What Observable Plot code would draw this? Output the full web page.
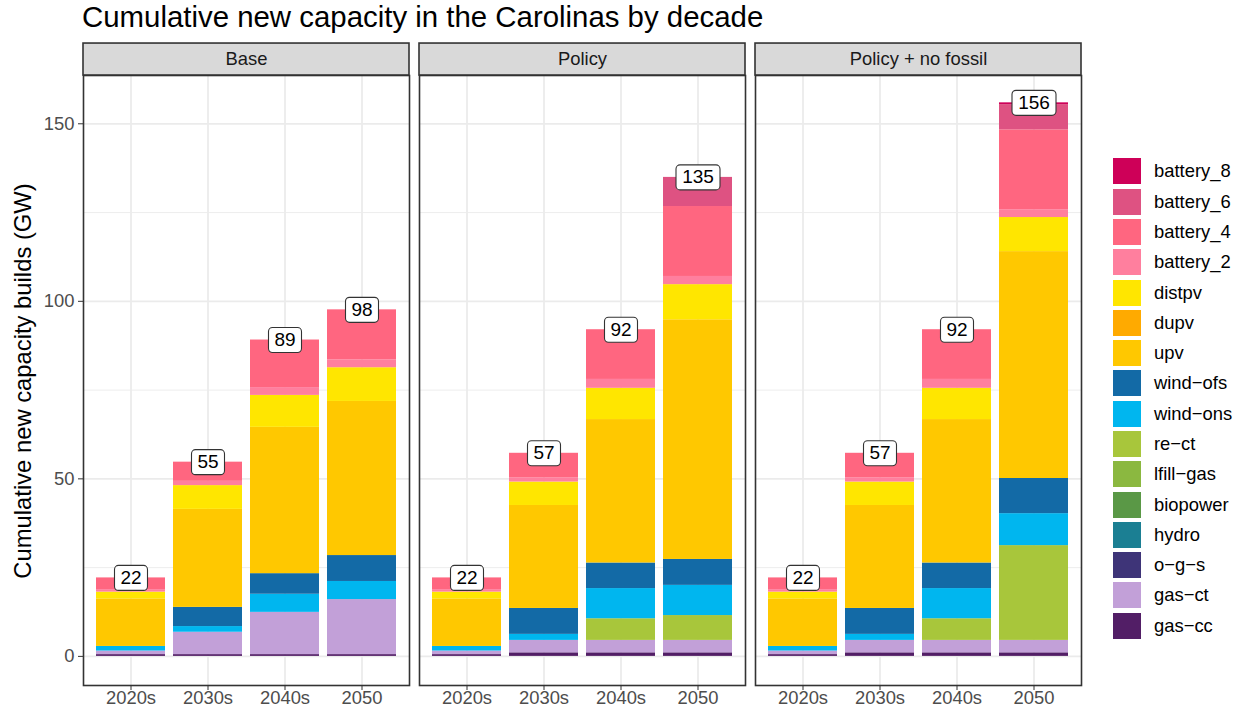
<!DOCTYPE html>
<html><head><meta charset="utf-8">
<script src="https://cdn.jsdelivr.net/npm/d3@7"></script>
<script src="https://cdn.jsdelivr.net/npm/@observablehq/plot@0.6"></script>
<style>
body{margin:0;background:#fff;font-family:"Liberation Sans",Arial,sans-serif;}
#wrap{position:relative;width:1244px;height:713px;overflow:hidden;background:#fff;}
#title{position:absolute;left:82px;top:2.1px;font-size:29.4px;line-height:1;color:#000;white-space:nowrap;}
#ylab{position:absolute;left:22.5px;top:381px;transform:translate(-50%,-50%) rotate(-90deg);font-size:23.8px;white-space:nowrap;line-height:1;color:#000;}
#legend{position:absolute;left:1113px;top:156.2px;}
.item{height:30.3px;display:flex;align-items:center;}
.sw{width:27.7px;height:26px;margin-right:13.3px;flex:none;}
.lab{font-size:18.4px;color:#000;white-space:nowrap;}
#chart{position:absolute;left:0;top:0;}
</style></head>
<body>
<div id="wrap">
  <div id="chart"></div>
  <div id="title">Cumulative new capacity in the Carolinas by decade</div>
  <div id="ylab">Cumulative new capacity builds (GW)</div>
  <div id="legend"></div>
</div>
<script>
const scenarios = ["Base", "Policy", "Policy + no fossil"];
const decades = ["2020s", "2030s", "2040s", "2050"];
const techs = ["battery_8","battery_6","battery_4","battery_2","distpv","dupv","upv","wind-ofs","wind-ons","re-ct","lfill-gas","biopower","hydro","o-g-s","gas-ct","gas-cc"];
const techColors = ["#CE0058","#DE5282","#FF6680","#FF7F9E","#FFE600","#FFAA00","#FFC800","#136AA6","#00B6EF","#A8C63B","#8BB840","#5A9846","#1B7F93","#3E3478","#C2A0D8","#521E66"];
const yTicks = [0, 50, 100, 150];
const yMinor = [25, 75, 125];

// GW added per technology; columns follow `decades`
const baseValues = [
  ["gas-cc",    0.5, 0.5,  0.5,  0.5],
  ["gas-ct",    1.0, 6.3, 11.9, 15.5],
  ["wind-ons",  1.3, 1.6,  5.1,  5.1],
  ["wind-ofs",  0.0, 5.4,  5.8,  7.3],
  ["upv",      13.4,27.6, 41.2, 43.4],
  ["distpv",    1.9, 6.7,  9.0,  9.5],
  ["battery_2", 0.7, 1.2,  2.2,  2.2],
  ["battery_4", 3.3, 5.4, 13.4, 14.1]
];
const policyValues = [
  ["gas-cc",    0.5, 1.0,  1.0,  1.0],
  ["gas-ct",    1.0, 3.5,  3.5,  3.5],
  ["re-ct",     0.0, 0.0,  6.1,  7.0],
  ["wind-ons",  1.3, 1.7,  8.5,  8.5],
  ["wind-ofs",  0.0, 7.3,  7.2,  7.3],
  ["upv",      13.4,29.0, 40.4, 67.5],
  ["distpv",    1.9, 6.6,  8.8,  9.9],
  ["battery_2", 0.7, 1.2,  2.5,  2.3],
  ["battery_4", 3.3, 6.9, 14.0, 19.7],
  ["battery_6", 0.0, 0.0,  0.0,  8.2]
];
const noFossilValues = [
  ["gas-cc",    0.5, 1.0,  1.0,  1.0],
  ["gas-ct",    1.0, 3.5,  3.5,  3.5],
  ["re-ct",     0.0, 0.0,  6.1, 26.7],
  ["wind-ons",  1.3, 1.7,  8.5,  9.0],
  ["wind-ofs",  0.0, 7.3,  7.2,  9.9],
  ["upv",      13.4,29.0, 40.4, 63.9],
  ["distpv",    1.9, 6.6,  8.8,  9.6],
  ["battery_2", 0.7, 1.2,  2.5,  2.2],
  ["battery_4", 3.3, 6.9, 14.0, 22.5],
  ["battery_6", 0.0, 0.0,  0.0,  7.1],
  ["battery_8", 0.0, 0.0,  0.0,  0.5]
];

const rows = [];
[[scenarios[0], baseValues], [scenarios[1], policyValues], [scenarios[2], noFossilValues]]
  .forEach(([scenario, table]) => table.forEach(([tech, ...vals]) =>
    vals.forEach((value, i) => rows.push({scenario, decade: decades[i], tech, value}))));

const totals = d3.flatRollup(rows, v => d3.sum(v, d => d.value), d => d.scenario, d => d.decade)
  .map(([scenario, decade, total]) => ({scenario, decade, total, label: String(Math.round(total))}));

const stackOrder = techs.slice().reverse();
const display = t => t.replace(/-/g, "\u2212");

function boxSymbol(w, h, r) {
  return {draw(ctx) {
    const x0 = -w / 2, x1 = w / 2, y0 = -h / 2, y1 = h / 2;
    ctx.moveTo(x0 + r, y0);
    ctx.lineTo(x1 - r, y0);
    ctx.arcTo(x1, y0, x1, y0 + r, r);
    ctx.lineTo(x1, y1 - r);
    ctx.arcTo(x1, y1, x1 - r, y1, r);
    ctx.lineTo(x0 + r, y1);
    ctx.arcTo(x0, y1, x0, y1 - r, r);
    ctx.lineTo(x0, y0 + r);
    ctx.arcTo(x0, y0, x0 + r, y0, r);
    ctx.closePath();
  }};
}

const chart = Plot.plot({
  width: 1100, height: 713,
  marginLeft: 82, marginRight: 17, marginTop: 75, marginBottom: 28,
  style: {fontFamily: "Liberation Sans, Arial, sans-serif", background: "transparent", overflow: "visible"},
  fx: {domain: scenarios, paddingInner: 0.0285, paddingOuter: 0, axis: null, label: null},
  x: {domain: decades, paddingInner: 0.1, paddingOuter: 0.15, axis: null, label: null},
  y: {domain: [-8.2, 163.6], axis: null, label: null},
  color: {domain: techs, range: techColors},
  marks: [
    Plot.ruleY(yMinor, {stroke: "#EBEBEB", strokeWidth: 0.9}),
    Plot.ruleY(yTicks, {stroke: "#EBEBEB", strokeWidth: 1.8}),
    Plot.ruleX(decades, {x: d => d, stroke: "#EBEBEB", strokeWidth: 1.8}),
    Plot.barY(rows, {fx: "scenario", x: "decade", y: "value", fill: "tech", order: stackOrder}),
    Plot.frame({stroke: "#333", strokeWidth: 1.6}),
    Plot.rect(scenarios, {fx: d => d, y1: 163.6, y2: 172.6, fill: "#D9D9D9", stroke: "#333", strokeWidth: 1.6}),
    Plot.text(scenarios, {fx: d => d, y: 168.1, text: d => d, fontSize: 18.4, fill: "#1A1A1A"}),
    Plot.dot(totals.filter(d => d.label.length < 3), {fx: "scenario", x: "decade", y: "total", symbol: boxSymbol(33, 25, 4), fill: "white", stroke: "#333", strokeWidth: 1.1}),
    Plot.dot(totals.filter(d => d.label.length >= 3), {fx: "scenario", x: "decade", y: "total", symbol: boxSymbol(44, 25, 4), fill: "white", stroke: "#333", strokeWidth: 1.1}),
    Plot.text(totals, {fx: "scenario", x: "decade", y: "total", text: "label", fontSize: 19, fill: "#000"}),
    Plot.axisX({tickSize: 5, tickPadding: 0, fontSize: 18.4, label: null, stroke: "#333", color: "#4D4D4D"}),
    Plot.axisY({ticks: yTicks, tickSize: 5, tickPadding: 4, fontSize: 18.4, label: null, stroke: "#333", color: "#4D4D4D"})
  ]
});
document.getElementById("chart").appendChild(chart);

const legend = d3.select("#legend");
techs.forEach((t, i) => {
  const item = legend.append("div").attr("class", "item");
  item.append("div").attr("class", "sw").style("background", techColors[i]);
  item.append("div").attr("class", "lab").text(display(t));
});
</script>
</body></html>
